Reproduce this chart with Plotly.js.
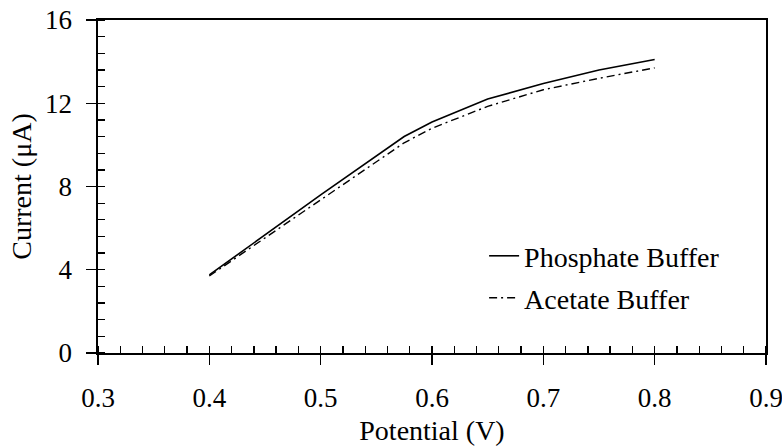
<!DOCTYPE html>
<html>
<head>
<meta charset="utf-8">
<script src="https://cdn.plot.ly/plotly-3.0.1.min.js"></script>
<style>html,body{margin:0;padding:0;background:#fff;overflow:hidden;}#chart{width:782px;height:447px;}</style>
</head>
<body>
<div id="chart"></div>
<script>
const potential = [0.4, 0.5, 0.575, 0.6, 0.65, 0.7, 0.75, 0.8];
const phosphateCurrent = [3.75, 7.6, 10.4, 11.1, 12.2, 12.95, 13.6, 14.1];
const acetateCurrent = [3.7, 7.35, 10.1, 10.8, 11.85, 12.65, 13.2, 13.7];
const seriesNames = ["Phosphate Buffer", "Acetate Buffer"];
const xTitle = "Potential (V)";
const yTitle = "Current (μA)";

const FONT = "'Liberation Serif', 'Times New Roman', serif";

const traces = [
  {x: potential, y: phosphateCurrent, name: seriesNames[0], mode: "lines",
   line: {color: "#000", width: 1.6}, legend: "legend"},
  {x: potential, y: acetateCurrent, name: seriesNames[1], mode: "lines",
   line: {color: "#000", width: 1.4, dash: "8px,4px,2px,4px"}, legend: "legend2"}
];

const layout = {
  width: 782, height: 447,
  margin: {l: 98, r: 16, t: 20, b: 94},
  paper_bgcolor: "#fff", plot_bgcolor: "#fff",
  font: {family: FONT, size: 27, color: "#000"},
  showlegend: true,
  legend: {x: 0.578, y: 0.291, xanchor: "left", yanchor: "middle", bgcolor: "rgba(0,0,0,0)", font: {size: 28}},
  legend2: {x: 0.578, y: 0.165, xanchor: "left", yanchor: "middle", bgcolor: "rgba(0,0,0,0)", font: {size: 28}},
  xaxis: {
    range: [0.3, 0.9], dtick: 0.1, tick0: 0.3, tickformat: ".1f",
    ticks: "outside", ticklen: 10, tickwidth: 1.3, tickcolor: "#000",
    tickfont: {size: 27}, ticklabeloverflow: "allow",
    minor: {dtick: 0.02, ticks: "inside", ticklen: 7, tickwidth: 1.3, tickcolor: "#000", showgrid: false},
    showline: true, linecolor: "#000", linewidth: 1.6, mirror: true,
    showgrid: false, zeroline: false, ticklabelstandoff: 10,
    title: {text: xTitle, font: {size: 28}, standoff: 8}
  },
  yaxis: {
    range: [0, 16], dtick: 4, tick0: 0,
    ticks: "outside", ticklen: 10, tickwidth: 1.3, tickcolor: "#000",
    tickfont: {size: 27},
    minor: {dtick: 0.8, ticks: "inside", ticklen: 7, tickwidth: 1.3, tickcolor: "#000", showgrid: false},
    showline: true, linecolor: "#000", linewidth: 1.6, mirror: true,
    showgrid: false, zeroline: false, ticklabelstandoff: 9,
    title: {text: yTitle, font: {size: 28}, standoff: 5}
  },
  xaxis2: {
    overlaying: "x", matches: "x", range: [0.3, 0.9], dtick: 0.1, tick0: 0.3,
    ticks: "inside", ticklen: 10, tickwidth: 1.3, tickcolor: "#000",
    showticklabels: false, showline: false, showgrid: false, zeroline: false, side: "bottom", anchor: "y"
  },
  yaxis2: {
    overlaying: "y", range: [0, 16], dtick: 4, tick0: 0,
    ticks: "inside", ticklen: 10, tickwidth: 1.3, tickcolor: "#000",
    showticklabels: false, showline: false, showgrid: false, zeroline: false, side: "left", anchor: "x"
  }
};

Plotly.newPlot("chart", traces, layout, {staticPlot: true, displayModeBar: false});
</script>
</body>
</html>
